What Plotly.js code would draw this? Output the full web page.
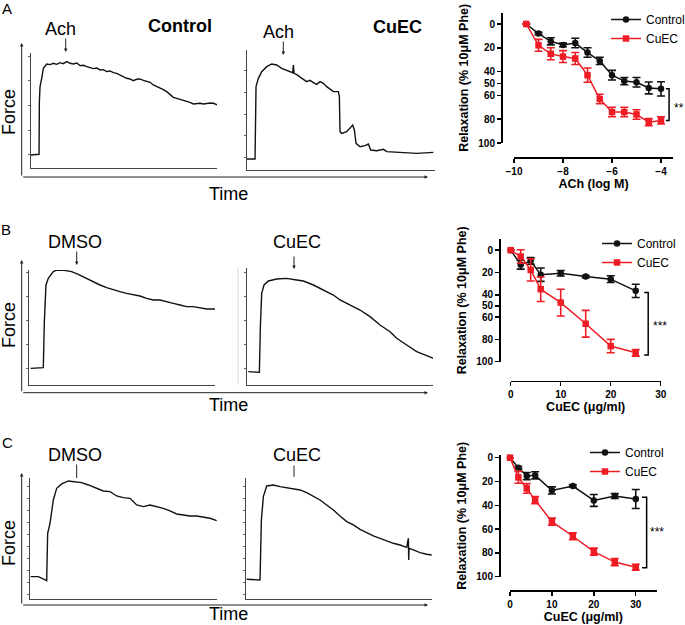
<!DOCTYPE html>
<html><head><meta charset="utf-8">
<script src="https://cdn.plot.ly/plotly-3.0.1.min.js"></script>
<style>html,body{margin:0;padding:0;background:#fff}</style>
</head><body>
<div id="chart" style="width:685px;height:625px"></div>
<script>
// ---------- Concentration-response data (right column) ----------
const achLogM    = [-9.5, -9, -8.5, -8, -7.5, -7, -6.5, -6, -5.5, -5, -4.5, -4];
const achCtrl    = [0, 8, 14.5, 17.6, 16, 24, 31, 43, 48, 49, 53.7, 54.5];
const achCtrlErr = [0, 1, 3, 1.5, 4, 4, 3, 4, 3, 4, 5, 6];
const achCuec    = [0, 17.9, 25, 27.4, 29, 43, 63, 74, 74, 76, 82.5, 81];
const achCuecErr = [0, 5, 5, 5, 5, 6, 4, 4, 4, 4, 3, 3];

const concB    = [0, 2, 4, 6, 10, 15, 20, 25];
const bCtrl    = [0, 13, 9.6, 22, 20.7, 23.7, 26, 36.5];
const bCtrlErr = [0, 4, 3, 6, 2.5, 1, 3, 6];
const bCuec    = [0, 5.7, 17.7, 35, 47, 66, 86, 92];
const bCuecErr = [0, 6, 10, 11, 12, 12, 6, 3];

const concC    = [0, 2, 4, 6, 10, 15, 20, 25, 30];
const cCtrl    = [0, 8.4, 15.4, 14.8, 27.5, 23.8, 35.9, 32.2, 34.7];
const cCtrlErr = [0, 1, 3, 3, 3, 1, 5, 2, 8];
const cCuec    = [0, 16.5, 25.8, 35.6, 53.8, 66, 79, 87.7, 92];
const cCuecErr = [0, 5, 4, 3, 3, 3, 3, 3, 2.5];

// ---------- Force recordings (left columns), arbitrary units ----------
const aCtrlT = [0,2.5,2.6,2.8,3.3,3.8,4.8,5.8,6.8,7.8,8.8,9.8,10.8,11.8,12.8,13.8,14.8,15.8,16.8,17.8,18.8,19.8,20.8,21.8,22.8,23.8,24.8,25.8,26.8,27.8,28.8,29.8,30.8,31.8,32.8,33.8,34.8,35.8,36.8,37.8,38.8,39.8,40.8,41.8,42.8,43.8,44.8,45.8,46.8,47.8,48.8,49.8,50.8,51.8,52.8,53.8,54.8,56];
const aCtrlF = [4,4.2,20,24.5,27,30,31.3,31.1,31.5,31.2,31.7,31.4,32,31.5,31.3,31.6,30.8,30.9,30.5,30.2,29.9,30.1,29.5,29.6,29,29.2,28.7,28.5,28,27.6,27,26.8,26.3,26.7,26.8,26.4,26.2,25.8,25,24.6,24,23.6,23,22.2,21.3,21,20.7,20.5,20,19.8,19.3,19.5,19.5,19.3,19.5,19.6,19.5,19];

const aCuecT = [0,2.5,2.8,3.5,4.5,6,7.5,9,10.5,12,13,13.8,14,14.2,15,16,17,18,19,20,21,22,23,24,25,26,27.5,27.8,28,28.5,30,31,31.8,32.3,32.8,34,35.5,36.5,37.2,39,41,42,46,51,56];
const aCuecF = [3.3,3.3,25,27.5,29.5,31,31.8,31.5,30.5,30,29.6,29.2,31.5,29,28.6,27.8,27.2,26.5,26.9,26.2,25.7,26.5,26,25,24.3,23.5,23.5,22,11.5,11,11.5,12.5,13.5,12,8,7,7.3,7.8,6,5.8,6.2,5.5,5.2,5,5.3];

const bDmsoT = [0.4,4.2,4.5,5,5.7,7.2,8.7,10.7,12.7,14.7,16.7,19.2,21.2,23.2,25.2,27.2,29.2,31.2,33.2,35.2,37.2,39.2,41.2,43.2,45.2,47.2,49.2,51.2,53.2,55.7];
const bDmsoF = [5,5.2,18.5,30,32,34,34.7,34.3,34,33.2,32.2,31,30,29.2,28.5,28,27.5,27.2,26.7,26,25.5,25.5,25.1,24.5,24,23.5,23.5,23.2,22.8,22.8];

const bCuecT = [0.5,3.8,4.1,4.5,5.2,6.5,9,12,15,17,20,23,26,28,31,34,37,40,43,45,48,51,54,56];
const bCuecF = [4,3.8,17.5,27.5,30,31.2,31.8,32,31.5,31.2,30,28.5,27,25.5,24,22.5,20.5,18,16,14,12,10,8.8,8];

const cDmsoT = [0.2,2.5,5,5.3,6,7,8,9.5,11.5,13.5,15.5,17.5,20,22,24,26,28,30,32,34,36,38,40,42,44,46,48,50,52,54,56];
const cDmsoF = [6.8,6.8,5.6,19.8,22.8,29.8,33.3,34.6,35.5,35.3,35,34.3,33.3,32.5,32.3,31,30.5,30.3,28.3,27.8,28.3,27.8,27.3,26.5,25.6,25.3,25,25,24.6,24.3,23.6];

const cCuecT = [0.3,4.3,4.7,5.3,6.3,8.3,10.3,12.3,14.3,16.3,18.3,20.3,22.3,24.3,26.3,28.3,30.3,32.3,34.3,36.3,38.3,40.3,42.3,44.3,46.3,48.3,48.8,48.9,49,50.3,52.3,54.3,55.8];
const cCuecF = [6,5.8,23.8,30.8,34,34.3,33.8,33.5,33.1,32.8,32,31,29.8,28.3,26.8,25,23.3,22.3,21,20,19,18.3,17.5,16.8,16.3,15.6,18.3,11.8,15.3,14.8,14,13.5,13.3];

// ---------- helpers ----------
const W = 685, H = 625;
const FONT = "'Liberation Sans', Arial, sans-serif";
const px = v => v / W;
const py = v => 1 - v / H;
const UNIT = 10 / 3; // px per recording unit

const RED = '#ee1c25', BLK = '#111111';

function crTrace(x, y, err, name, color, symbol, xa, ya, leg) {
  return {
    x, y, name, type: 'scatter', mode: 'lines+markers',
    xaxis: xa, yaxis: ya, legend: leg, cliponaxis: false,
    line: {color, width: 1.5},
    marker: {color, symbol, size: 6.5},
    error_y: {type: 'data', array: err, visible: true, color, thickness: 1.6, width: 4}
  };
}
function recTrace(t, f, xa, ya) {
  return {x: t, y: f, type: 'scatter', mode: 'lines', xaxis: xa, yaxis: ya,
    showlegend: false, cliponaxis: false, hoverinfo: 'skip',
    line: {color: BLK, width: 1.4}};
}

const tickFont = {family: FONT, size: 10, color: '#000', weight: 'bold'};
const titleFont = {family: FONT, size: 12.5, color: '#000', weight: 'bold'};

function crX(dom, pos, range, tickvals, title) {
  return {domain: [px(dom[0]), px(dom[1])], anchor: 'free', position: py(pos), range,
    tickvals, ticks: 'outside', ticklen: 4, tickwidth: 1.5, tickcolor: '#000',
    showline: true, linecolor: '#000', linewidth: 1.5, showgrid: false, zeroline: false,
    tickfont: tickFont, title: {text: title, font: titleFont, standoff: 3}};
}
function crY(dom, pos, range, tickvals) {
  return {domain: [py(dom[1]), py(dom[0])], anchor: 'free', position: px(pos), range,
    tickvals, ticks: 'outside', ticklen: 4, tickwidth: 1.5, tickcolor: '#000',
    showline: true, linecolor: '#000', linewidth: 1.5, showgrid: false, zeroline: false,
    tickfont: tickFont, title: {text: 'Relaxation (% 10μM Phe)', font: titleFont, standoff: 5}};
}
function recX(left, right, anchor) {
  return {domain: [px(left), px(right)], anchor, range: [0, (right - left) / UNIT],
    showline: true, linecolor: '#444', linewidth: 1, showgrid: false, zeroline: false,
    showticklabels: false, ticks: ''};
}
function recY(top, bottom, anchor, tick0, dtick) {
  return {domain: [py(bottom), py(top)], anchor, range: [0, (bottom - top) / UNIT],
    showline: true, linecolor: '#444', linewidth: 1, showgrid: false, zeroline: false,
    showticklabels: false, ticks: 'outside', ticklen: 2, tickcolor: '#666', tick0, dtick};
}

const data = [
  crTrace(achLogM, achCtrl, achCtrlErr, 'Control', BLK, 'circle', 'x', 'y', 'legend'),
  crTrace(achLogM, achCuec, achCuecErr, 'CuEC', RED, 'square', 'x', 'y', 'legend'),
  crTrace(concB, bCtrl, bCtrlErr, 'Control', BLK, 'circle', 'x2', 'y2', 'legend2'),
  crTrace(concB, bCuec, bCuecErr, 'CuEC', RED, 'square', 'x2', 'y2', 'legend2'),
  crTrace(concC, cCtrl, cCtrlErr, 'Control', BLK, 'circle', 'x3', 'y3', 'legend3'),
  crTrace(concC, cCuec, cCuecErr, 'CuEC', RED, 'square', 'x3', 'y3', 'legend3'),
  recTrace(aCtrlT, aCtrlF, 'x4', 'y4'),
  recTrace(aCuecT, aCuecF, 'x5', 'y5'),
  recTrace(bDmsoT, bDmsoF, 'x6', 'y6'),
  recTrace(bCuecT, bCuecF, 'x7', 'y7'),
  recTrace(cDmsoT, cDmsoF, 'x8', 'y8'),
  recTrace(cCuecT, cCuecF, 'x9', 'y9')
];

function legendAt(leftPx, topPx) {
  return {x: px(leftPx), y: py(topPx), xanchor: 'left', yanchor: 'top',
    bgcolor: 'rgba(0,0,0,0)', borderwidth: 0, tracegroupgap: 0,
    font: {family: FONT, size: 12, color: '#000'}, itemwidth: 30};
}

function txt(x, y, text, size, opts) {
  return Object.assign({xref: 'paper', yref: 'paper', x: px(x), y: py(y), text,
    showarrow: false, xanchor: 'center', yanchor: 'middle',
    font: {family: FONT, size, color: '#000'}}, opts || {});
}
function arrow(hx, hy, tx, ty, head, color) {
  return {xref: 'paper', yref: 'paper', x: px(hx), y: py(hy), ax: tx - hx, ay: ty - hy,
    axref: 'pixel', ayref: 'pixel', text: '', showarrow: true,
    arrowhead: head, arrowsize: 0.7, arrowwidth: 1, arrowcolor: color || '#222', standoff: 0};
}

const annotations = [
  // panel letters
  txt(7, 9, 'A', 15), txt(6, 229, 'B', 15), txt(7, 442, 'C', 15),
  // panel A recordings
  txt(60, 29, 'Ach', 18), txt(180.5, 26, '<b>Control</b>', 18),
  txt(278, 32, 'Ach', 18), txt(397, 27, '<b>CuEC</b>', 18),
  arrow(65.7, 52, 65.7, 37, 2), arrow(283.3, 55, 283.3, 40, 2),
  txt(9, 112, 'Force', 18, {textangle: -90}), txt(228, 194, 'Time', 18),
  // panel B recordings
  txt(74.5, 242, 'DMSO', 18), txt(297, 242, 'CuEC', 18),
  arrow(76.7, 265, 76.7, 250, 2), arrow(294, 269, 294, 255, 2),
  txt(9, 325, 'Force', 18, {textangle: -90}), txt(228, 405, 'Time', 18),
  // panel C recordings
  txt(74.5, 455, 'DMSO', 18), txt(297, 455, 'CuEC', 18),
  arrow(76.7, 478, 76.7, 463, 0), arrow(294, 477, 294, 464, 0),
  txt(9, 543, 'Force', 18, {textangle: -90}), txt(228, 614, 'Time', 18),
  // outer axes with arrows
  arrow(21.7, 43, 21.7, 177, 2), arrow(428, 177, 21.7, 177, 2),
  arrow(21.7, 260, 21.7, 392.7, 2), arrow(428, 392.7, 21.7, 392.7, 2),
  arrow(21.7, 473, 21.7, 605, 2), arrow(428, 605, 21.7, 605, 2),
  // significance marks
  txt(679, 108, '**', 12), txt(660, 326, '***', 12), txt(657, 532, '***', 12)
];

function bracket(xa, ya, xIn, xOut, y0, y1) {
  return {type: 'path', xref: xa, yref: ya,
    path: `M ${xIn},${y0} L ${xOut},${y0} L ${xOut},${y1} L ${xIn},${y1}`,
    line: {color: '#000', width: 1.5}};
}
const shapes = [
  bracket('x', 'y', -3.8, -3.67, achCtrl[achCtrl.length - 1], achCuec[achCuec.length - 1]),
  bracket('x2', 'y2', 26.7, 27.5, 38, 94),
  bracket('x3', 'y3', 31.5, 32.6, 33.3, 92.4),
  {type: 'line', xref: 'paper', yref: 'paper', x0: px(238), x1: px(238), y0: py(268), y1: py(385),
   line: {color: '#d8d8d8', width: 1}}
];

const layout = {
  width: W, height: H, margin: {l: 0, r: 0, t: 0, b: 0, autoexpand: false},
  paper_bgcolor: '#fff', plot_bgcolor: 'rgba(0,0,0,0)',
  font: {family: FONT, color: '#000'},
  showlegend: true,
  legend: legendAt(606, 5), legend2: legendAt(597, 229), legend3: legendAt(585, 438),
  xaxis:  crX([514, 673], 157, [-10, -3.51], [-10, -8, -6, -4], 'ACh (log M)'),
  yaxis:  crY([12.7, 143], 501, [100, -9.5], [0, 20, 40, 50, 60, 80, 100]),
  xaxis2: crX([510.7, 660.7], 380.7, [0, 30], [0, 10, 20, 30], 'CuEC (μg/ml)'),
  yaxis2: crY([239, 361.7], 499, [100, -10], [0, 20, 40, 50, 60, 80, 100]),
  xaxis3: crX([510, 656.7], 590, [0, 35], [0, 10, 20, 30], 'CuEC (μg/ml)'),
  yaxis3: crY([455, 576.7], 499, [100, -2.3], [0, 20, 40, 60, 80, 100]),
  xaxis4: recX(30.7, 217, 'y4'),   yaxis4: recY(53, 168.3, 'x4', 4, 7.4),
  xaxis5: recX(246.7, 435, 'y5'),  yaxis5: recY(50, 170, 'x5', 3.8, 6.5),
  xaxis6: recX(29.3, 215, 'y6'),   yaxis6: recY(270, 385, 'x6', 5, 7.2),
  xaxis7: recX(246.7, 433, 'y7'),  yaxis7: recY(268.3, 385, 'x7', 5, 7.2),
  xaxis8: recX(30, 217, 'y8'),     yaxis8: recY(478, 599.3, 'x8', 5, 3.6),
  xaxis9: recX(245.7, 432, 'y9'),  yaxis9: recY(478, 599.3, 'x9', 5, 3.6),
  annotations, shapes
};

Plotly.newPlot('chart', data, layout, {displayModeBar: false, staticPlot: true});
</script>
</body></html>
